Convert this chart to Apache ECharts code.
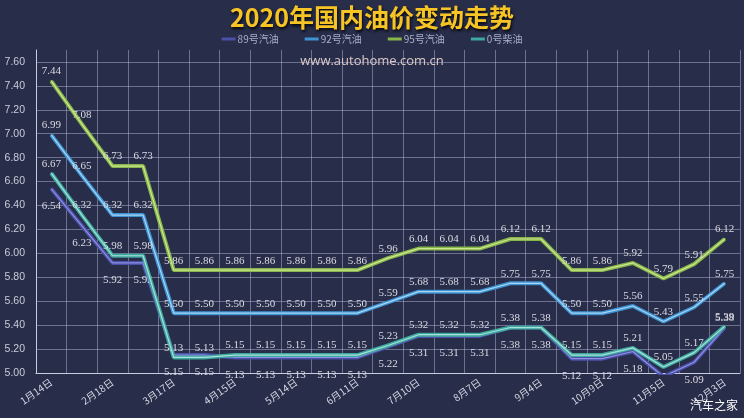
<!DOCTYPE html>
<html>
<head>
<meta charset="utf-8">
<script src="https://cdn.jsdelivr.net/npm/echarts@6/dist/echarts.min.js"></script>
<style>
html,body{margin:0;padding:0;background:#282d4a;}
#chart{width:744px;height:418px;}
</style>
</head>
<body>
<div id="chart"></div>
<script>
const categories = ['1月14日','2月4日','2月18日','3月3日','3月17日','3月31日','4月15日','4月29日','5月14日','5月28日','6月11日','6月28日','7月10日','7月24日','8月7日','8月21日','9月4日','9月18日','10月9日','10月23日','11月5日','11月19日','12月3日'];
const seriesNames = ['89号汽油','92号汽油','95号汽油','0号柴油'];
const gas89 = [6.54,6.23,5.92,5.92,5.15,5.15,5.13,5.13,5.13,5.13,5.13,5.22,5.31,5.31,5.31,5.38,5.38,5.12,5.12,5.18,4.97,5.09,5.38];
const gas92 = [6.99,6.65,6.32,6.32,5.50,5.50,5.50,5.50,5.50,5.50,5.50,5.59,5.68,5.68,5.68,5.75,5.75,5.50,5.50,5.56,5.43,5.55,5.75];
const gas95 = [7.44,7.08,6.73,6.73,5.86,5.86,5.86,5.86,5.86,5.86,5.86,5.96,6.04,6.04,6.04,6.12,6.12,5.86,5.86,5.92,5.79,5.91,6.12];
const diesel0 = [6.67,6.32,5.98,5.98,5.13,5.13,5.15,5.15,5.15,5.15,5.15,5.23,5.32,5.32,5.32,5.38,5.38,5.15,5.15,5.21,5.05,5.17,5.39];
const yMin = 5.0, yMax = 7.7, yStep = 0.2;

const values = [gas89, gas92, gas95, diesel0];
const baseColors = ['#4b50a8', '#3f93d2', '#86b548', '#3ea79e'];
const coreColors = ['#8c90e0', '#a8d6f4', '#cfe695', '#a6e2da'];
const labelPos = ['bottom', 'top', 'top', 'top'];
const labelDist = [11, 3, 3, 3];

const chart = echarts.init(document.getElementById('chart'));
const series = [];
values.forEach((arr, i) => {
  const last = arr.length - 1;
  const data = arr.map((v, k) => (i === 0 && k === last) ? { value: v, label: { position: 'top', distance: 3 } } : v);
  series.push({
    name: seriesNames[i],
    type: 'line',
    data: data,
    symbol: 'circle',
    symbolSize: 2,
    showSymbol: true,
    itemStyle: { color: baseColors[i] },
    lineStyle: { color: baseColors[i], width: 4 },
    label: {
      show: true,
      position: labelPos[i],
      distance: labelDist[i],
      color: '#dcdce4',
      fontSize: 11,
      fontFamily: 'Liberation Serif',
      formatter: p => p.value.toFixed(2)
    },
    z: 2 + i * 2
  });
  series.push({
    name: seriesNames[i],
    type: 'line',
    data: arr,
    symbol: 'none',
    silent: true,
    lineStyle: { color: coreColors[i], width: 1.2 },
    z: 3 + i * 2
  });
});

chart.setOption({
  backgroundColor: '#282d4a',
  title: {
    text: '2020年国内油价变动走势',
    left: 'center',
    top: 0,
    textStyle: {
      color: '#f7c425',
      fontSize: 25,
      fontWeight: 'bold',
      fontFamily: 'Noto Sans CJK SC',
      textShadowColor: 'rgba(0,0,0,0.85)',
      textShadowBlur: 3,
      textShadowOffsetX: 1,
      textShadowOffsetY: 2
    }
  },
  legend: {
    data: seriesNames,
    top: 29,
    left: 'center',
    icon: 'rect',
    itemWidth: 14,
    itemHeight: 3,
    itemGap: 26,
    textStyle: { color: '#a9aec8', fontSize: 10, fontFamily: 'Noto Sans CJK SC', padding: [0,0,0,-3] }
  },
  graphic: [
    { type: 'text', left: 'center', top: 55, style: { text: 'www.autohome.com.cn', fill: '#dccaca', font: '13px "Open Sans", sans-serif' }, z: 1 },
    { type: 'text', right: 6, top: 399, style: { text: '汽车之家', fill: '#ffffff', font: '12px "Noto Sans CJK SC"' }, z: 10 }
  ],
  grid: { left: 36, right: 4, top: 50, bottom: 45, containLabel: false },
  xAxis: {
    type: 'category',
    data: categories,
    boundaryGap: true,
    axisLine: { show: true, lineStyle: { color: '#c9cde0', width: 1 } },
    axisTick: { show: false, interval: 0 },
    axisLabel: { interval: 1, rotate: 35, color: '#d4d6e2', fontSize: 10, fontFamily: 'Noto Sans CJK SC', margin: 8 },
    splitLine: { show: true, interval: 0, lineStyle: { color: 'rgba(190,198,228,0.45)', width: 1 } }
  },
  yAxis: {
    type: 'value',
    min: yMin,
    max: yMax,
    interval: yStep,
    axisLine: { show: true, lineStyle: { color: '#c9cde0', width: 1 } },
    axisTick: { show: false },
    axisLabel: { color: '#c9ccd8', fontSize: 10.5, fontFamily: 'Liberation Sans', margin: 11, showMaxLabel: false, formatter: v => v.toFixed(2) },
    splitLine: { show: true, showMaxLine: false, lineStyle: { color: 'rgba(190,198,228,0.45)', width: 1 } }
  },
  series: series
});
</script>
</body>
</html>
